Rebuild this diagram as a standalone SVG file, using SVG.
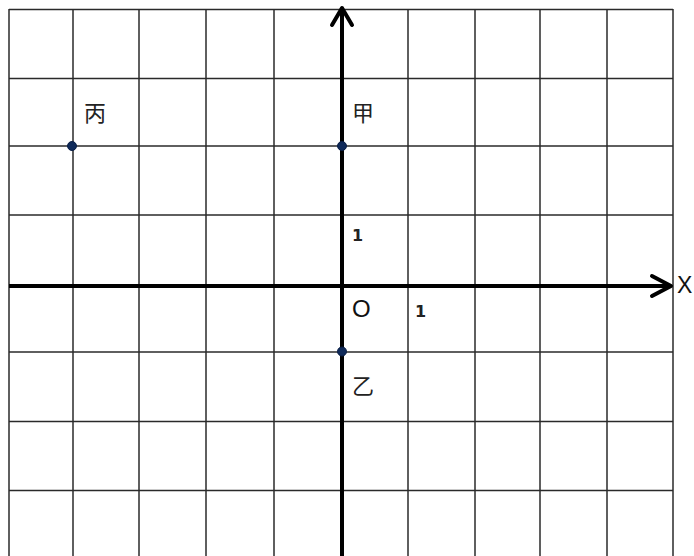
<svg xmlns="http://www.w3.org/2000/svg" width="694" height="556" viewBox="0 0 694 556">
<style>
.grid line{stroke:#2a2a2a;stroke-width:1.5}
.axis{stroke:#000;stroke-width:4;fill:none}
.arrow{stroke:#000;stroke-width:4;fill:none;stroke-linecap:round;stroke-linejoin:round}
.pt{fill:#0f2a5a;stroke:#0a1e44;stroke-width:1}
.cjk{font-family:"Noto Sans CJK SC","Noto Sans CJK JP",sans-serif;font-size:22px;fill:#222}
.lat{font-family:"Liberation Sans",Arial,sans-serif;fill:#111}
.num{font-family:"DejaVu Sans",sans-serif;font-size:16px;font-weight:bold;fill:#222}
</style>
<rect width="694" height="556" fill="#fff"/>
<g id="grid" class="grid">
<line x1="9" y1="9" x2="9" y2="556"/>
<line x1="73" y1="9" x2="73" y2="556"/>
<line x1="139" y1="9" x2="139" y2="556"/>
<line x1="206" y1="9" x2="206" y2="556"/>
<line x1="274" y1="9" x2="274" y2="556"/>
<line x1="408" y1="9" x2="408" y2="556"/>
<line x1="475" y1="9" x2="475" y2="556"/>
<line x1="540" y1="9" x2="540" y2="556"/>
<line x1="607" y1="9" x2="607" y2="556"/>
<line x1="673" y1="9" x2="673" y2="556"/>
<line x1="9" y1="9.5" x2="673" y2="9.5"/>
<line x1="9" y1="78.5" x2="673" y2="78.5"/>
<line x1="9" y1="146" x2="673" y2="146"/>
<line x1="9" y1="215" x2="673" y2="215"/>
<line x1="9" y1="352" x2="673" y2="352"/>
<line x1="9" y1="421.5" x2="673" y2="421.5"/>
<line x1="9" y1="490.5" x2="673" y2="490.5"/>
</g>
<g id="axes">
<line class="axis" x1="9" y1="286" x2="670" y2="286"/>
<line class="axis" x1="342" y1="556" x2="342" y2="10"/>
<polyline class="arrow" points="652,276 671,286 652,296"/>
<polyline class="arrow" points="332,25 342,8 352,25"/>
</g>
<g id="point-bing"><circle class="pt" cx="72" cy="146" r="4.5"/><text class="cjk" x="84" y="121">丙</text></g>
<g id="point-jia"><circle class="pt" cx="342" cy="146" r="4.5"/><text class="cjk" x="352" y="121">甲</text></g>
<g id="point-yi"><circle class="pt" cx="342" cy="351.5" r="4.5"/><text class="cjk" x="352" y="394">乙</text></g>
<g id="labels">
<text class="lat" x="352" y="317" font-size="24">O</text>
<text class="num" x="415" y="317">1</text>
<text class="num" x="352" y="241">1</text>
<text class="lat" x="677" y="293" font-size="23">X</text>
</g>
</svg>
